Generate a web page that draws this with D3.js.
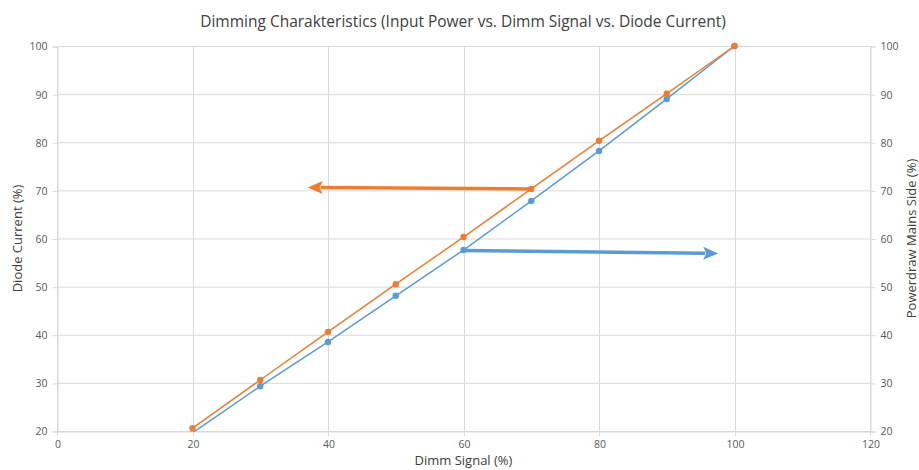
<!DOCTYPE html>
<html><head><meta charset="utf-8">
<script src="https://cdn.jsdelivr.net/npm/d3@7"></script>
<style>body{margin:0;background:#fff}svg{display:block}text{font-family:"Open Sans","Noto Sans",sans-serif}</style>
</head><body><svg id="c" width="919" height="470"></svg>
<script>
const dimmSignal = [20, 30, 40, 50, 60, 70, 80, 90, 100];
const diodeCurrent = [20.6, 30.6, 40.6, 50.5, 60.3, 70.3, 80.3, 90.1, 100];
const powerdraw = [19.6, 29.3, 38.5, 48.1, 57.6, 67.8, 78.2, 89.0, 100];
const xTicks = [0, 20, 40, 60, 80, 100, 120];
const yTicks = [20, 30, 40, 50, 60, 70, 80, 90, 100];
// annotation arrows in data units: [x1,y1,x2,y2]
const arrowDiode = [70, 70.3, 37.0, 70.6];
const arrowPower = [60, 57.5, 97.6, 56.9];

const svg = d3.select("#c");
const L = 57, R = 870, T = 46, B = 431;
const x = d3.scaleLinear().domain([0, 120]).range([L, R]);
const y = d3.scaleLinear().domain([20, 100]).range([B, T]);
const grid = "#d9d9d9", tc = "#595959";
const orange = "#ED7D31", blue = "#5B9BD5";

svg.append("text").attr("x", 463).attr("y", 27).attr("text-anchor", "middle")
  .attr("font-size", 15.5).attr("fill", "#404040")
  .text("Dimming Charakteristics (Input Power vs. Dimm Signal vs. Diode Current)");

// grid
svg.append("g").selectAll("line").data(yTicks).join("line")
  .attr("x1", L).attr("x2", R).attr("y1", d => y(d) + 0.5).attr("y2", d => y(d) + 0.5)
  .attr("stroke", grid).attr("stroke-width", 1);
svg.append("g").selectAll("line").data(xTicks).join("line")
  .attr("x1", d => Math.round(x(d)) + 0.5).attr("x2", d => Math.round(x(d)) + 0.5)
  .attr("y1", T).attr("y2", B + 5)
  .attr("stroke", grid).attr("stroke-width", 1);

const ya = d3.axisLeft(y).tickValues(yTicks).tickSize(5).tickPadding(5);
const gl = svg.append("g").attr("transform", `translate(${L + 0.5},0.5)`).call(ya);
const ya2 = d3.axisRight(y).tickValues(yTicks).tickSize(5).tickPadding(5);
const gr = svg.append("g").attr("transform", `translate(${R + 0.5},0.5)`).call(ya2);
const xa = d3.axisBottom(x).tickValues(xTicks).tickSize(0).tickPadding(9);
const gb = svg.append("g").attr("transform", `translate(0.5,${B + 0.5})`).call(xa);
[gl, gr, gb].forEach(g => {
  g.select(".domain").attr("stroke", grid);
  g.selectAll(".tick line").attr("stroke", grid);
  g.selectAll("text").attr("fill", tc).attr("font-size", 10.5)
    .attr("font-family", '"Open Sans","Noto Sans",sans-serif');
});

svg.append("text").attr("transform", `translate(22,${(T + B) / 2}) rotate(-90)`)
  .attr("text-anchor", "middle").attr("font-size", 13).attr("fill", "#404040").text("Diode Current (%)");
svg.append("text").attr("transform", `translate(916,${(T + B) / 2}) rotate(-90)`)
  .attr("text-anchor", "middle").attr("font-size", 13).attr("fill", "#404040").text("Powerdraw Mains Side (%)");
svg.append("text").attr("x", (L + R) / 2).attr("y", 465).attr("text-anchor", "middle")
  .attr("font-size", 13).attr("fill", "#404040").text("Dimm Signal (%)");

svg.append("defs").append("clipPath").attr("id", "clip").append("rect")
  .attr("x", L - 6).attr("y", T - 6).attr("width", R - L + 12).attr("height", B - T + 6.5);
const plot = svg.append("g").attr("clip-path", "url(#clip)");
const line = d3.line().x(d => x(d[0])).y(d => y(d[1]));
const series = [
  {vals: powerdraw, color: blue},
  {vals: diodeCurrent, color: orange}
];
series.forEach(s => {
  const pts = dimmSignal.map((d, i) => [d, s.vals[i]]);
  plot.append("path").attr("d", line(pts)).attr("fill", "none")
    .attr("stroke", s.color).attr("stroke-width", 1.5);
  plot.selectAll(null).data(pts).join("circle")
    .attr("cx", d => x(d[0])).attr("cy", d => y(d[1])).attr("r", 3.2)
    .attr("fill", s.color);
});

function arrow(a, color) {
  const x1 = x(a[0]), y1 = y(a[1]), x2 = x(a[2]), y2 = y(a[3]);
  const dx = x2 - x1, dy = y2 - y1, len = Math.hypot(dx, dy);
  const ux = dx / len, uy = dy / len;
  const hl = 15, hw = 6.5;
  const bx = x2 - ux * hl, by = y2 - uy * hl;
  svg.append("line").attr("x1", x1).attr("y1", y1).attr("x2", bx + ux * 2).attr("y2", by + uy * 2)
    .attr("stroke", color).attr("stroke-width", 3.5);
  svg.append("path").attr("d",
    `M${x2},${y2}L${bx - uy * hw},${by + ux * hw}L${bx + ux * 3},${by + uy * 3}L${bx + uy * hw},${by - ux * hw}Z`)
    .attr("fill", color);
}
arrow(arrowDiode, orange);
arrow(arrowPower, blue);
</script></body></html>
